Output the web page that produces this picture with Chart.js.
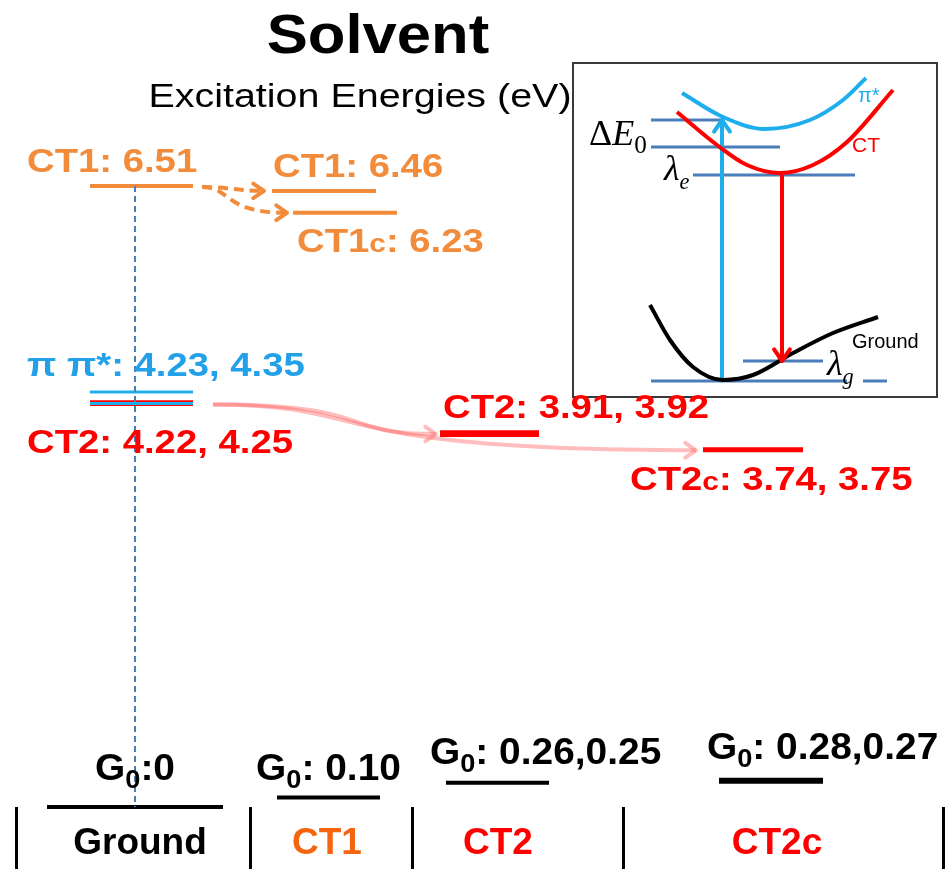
<!DOCTYPE html>
<html>
<head>
<meta charset="utf-8">
<script src="https://cdn.jsdelivr.net/npm/chart.js@4.4.1/dist/chart.umd.min.js"></script>
<style>
  html, body { margin: 0; padding: 0; background: #fff; }
  #wrap { position: relative; width: 947px; height: 869px; }
  #levels { position: absolute; left: 0; top: 0; z-index: 2; }
  #inset { position: absolute; left: 572px; top: 62px; width: 366px; height: 336px; z-index: 1;
           border: 2px solid #3a3a3a; box-sizing: border-box; background: #fff; }
</style>
</head>
<body>
<div id="wrap">
  <div id="inset"><canvas id="scheme"></canvas></div>
  <canvas id="levels"></canvas>
</div>
<script>
// Energies (eV)
const states = ["Ground", "CT1", "CT2", "CT2c"];
const stateColors = ["#000000", "#f5640f", "#ff0000", "#ff0000"];
const groundG0 = [0];
const ct1G0 = [0.10];
const ct2G0 = [0.26, 0.25];
const ct2cG0 = [0.28, 0.27];
const ct1Vertical = [6.51];
const ct1Relaxed = [6.46];
const ct1cRelaxed = [6.23];
const pipiVertical = [4.23, 4.35];
const ct2Vertical = [4.22, 4.25];
const ct2Relaxed = [3.91, 3.92];
const ct2cRelaxed = [3.74, 3.75];

// inset sketch (arbitrary units)
const insetPiStar = [[108, 303], [149, 279], [191, 267], [236, 276], [269, 296], [292, 318]];
const insetCT = [[103, 284], [143, 251], [173, 231], [206, 223], [239, 231], [273, 254], [319, 306]];
const insetGround = [[76, 91], [96, 56], [119, 29], [149, 16], [179, 21], [219, 43], [259, 63], [304, 79]];
const insetLevels = [[77, 149, 276], [77, 206, 249], [119, 281, 221], [169, 249, 35], [77, 273, 15], [289, 313, 15]];

// layout of the diagram (x units along the plot width)
const colEdges = [0, 234, 396, 607, 927];
const labelAt = [124, 311, 482, 761];
const span = {
  ground: [31, 207], vert: [74, 177],
  ct1: [256, 360], ct1c: [277, 381], ct1g: [261, 364],
  ct2: [424, 523], ct2g: [430, 533],
  ct2c: [687, 787], ct2cg: [703, 807]
};

const FONT = '"Liberation Sans", Arial, Helvetica, sans-serif';
const SERIF = '"Liberation Serif", "Times New Roman", serif';
const ORANGE = "#f28b3a", BLUE = "#1eaeee", BLUE_TEXT = "#22a0e8", RED = "#ff0000";
const STEEL = "#4a7ebb", PINK = "rgba(255, 90, 90, 0.4)";

const f2 = v => v.toFixed(2);
const mid = s => (s[0] + s[1]) / 2;

// text with optional subscripts / small letters, stretched horizontally
const KIND = { n: [1, 0, ""], s: [0.7, 0.22, ""], c: [0.78, 0, ""], i: [1, 0, "italic "], si: [0.62, 0.25, "italic "] };
function text(ctx, parts, x, y, o) {
  const size = o.size, weight = o.weight || "bold", fam = o.family || FONT;
  const fontOf = k => KIND[k][2] + weight + " " + (size * KIND[k][0]) + "px " + fam;
  ctx.save();
  ctx.fillStyle = o.color || "#000";
  ctx.textAlign = "left";
  ctx.textBaseline = "alphabetic";
  let w = 0;
  parts.forEach(([t, k]) => { ctx.font = fontOf(k); w += ctx.measureText(t).width; });
  let cx = o.align === "center" ? -w / 2 : 0;
  ctx.translate(x, y);
  ctx.scale(o.sx || 1, 1);
  parts.forEach(([t, k]) => {
    ctx.font = fontOf(k);
    ctx.fillText(t, cx, size * KIND[k][1]);
    cx += ctx.measureText(t).width;
  });
  ctx.restore();
}

function head(ctx, x, y, ang, color, width, len) {
  ctx.save();
  ctx.strokeStyle = color;
  ctx.lineWidth = width;
  ctx.lineCap = "round";
  ctx.lineJoin = "round";
  ctx.setLineDash([]);
  ctx.beginPath();
  ctx.moveTo(x - len * Math.cos(ang - 0.6), y - len * Math.sin(ang - 0.6));
  ctx.lineTo(x, y);
  ctx.lineTo(x - len * Math.cos(ang + 0.6), y - len * Math.sin(ang + 0.6));
  ctx.stroke();
  ctx.restore();
}

function arrow(ctx, s, c1, c2, e, color, width, dash) {
  ctx.save();
  ctx.strokeStyle = color;
  ctx.lineWidth = width;
  ctx.setLineDash(dash || []);
  ctx.beginPath();
  ctx.moveTo(s.x, s.y);
  ctx.bezierCurveTo(c1.x, c1.y, c2.x, c2.y, e.x, e.y);
  ctx.stroke();
  ctx.restore();
  head(ctx, e.x, e.y, Math.atan2(e.y - c2.y, e.x - c2.x), color, width, 13);
}

const annotate = {
  id: "annotate",
  afterDatasetsDraw(chart) {
    const { ctx } = chart;
    const X = v => chart.scales.x.getPixelForValue(v);
    const Y = v => chart.scales.y.getPixelForValue(v);
    const top = a => Y(Math.max(...a)), low = a => Y(Math.min(...a));
    const lvl = { size: 33, sx: 1.16 };
    const g0 = { size: 36, sx: 1.08 };

    text(ctx, [["Solvent", "n"]], 378, 53, { size: 55, sx: 1.12, align: "center" });
    text(ctx, [["Excitation Energies (eV)", "n"]], 360, 107, { size: 34, sx: 1.16, weight: "normal", align: "center" });

    text(ctx, [["CT1: " + f2(ct1Vertical[0]), "n"]], X(11), top(ct1Vertical) - 14, { ...lvl, color: ORANGE });
    text(ctx, [["CT1: " + f2(ct1Relaxed[0]), "n"]], X(span.ct1[0] + 1), top(ct1Relaxed) - 14, { ...lvl, color: ORANGE });
    text(ctx, [["CT1", "n"], ["c", "c"], [": " + f2(ct1cRelaxed[0]), "n"]], X(span.ct1c[0] + 4), low(ct1cRelaxed) + 39, { ...lvl, color: ORANGE });
    text(ctx, [["π π*: " + pipiVertical.map(f2).join(", "), "n"]], X(11), top(pipiVertical) - 16, { ...lvl, color: BLUE_TEXT });
    text(ctx, [["CT2: " + ct2Vertical.map(f2).join(", "), "n"]], X(11), low(ct2Vertical) + 48, { ...lvl, color: RED });
    text(ctx, [["CT2: " + ct2Relaxed.map(f2).join(", "), "n"]], X(span.ct2[0] + 3), top(ct2Relaxed) - 15, { ...lvl, color: RED });
    text(ctx, [["CT2", "n"], ["c", "c"], [": " + ct2cRelaxed.map(f2).join(", "), "n"]], X(614), low(ct2cRelaxed) + 40, { ...lvl, color: RED });

    text(ctx, [["G", "n"], ["0", "s"], [":" + groundG0[0], "n"]], X(mid(span.ground)), top(groundG0) - 27, { ...g0, align: "center" });
    text(ctx, [["G", "n"], ["0", "s"], [": " + f2(ct1G0[0]), "n"]], X(mid(span.ct1g)), top(ct1G0) - 17, { ...g0, align: "center" });
    text(ctx, [["G", "n"], ["0", "s"], [": " + ct2G0.map(f2).join(","), "n"]], X(span.ct2g[0] - 16), top(ct2G0) - 18, g0);
    text(ctx, [["G", "n"], ["0", "s"], [": " + ct2cG0.map(f2).join(","), "n"]], X(span.ct2cg[0] - 12), top(ct2cG0) - 21, g0);

    // relaxation arrows, CT1 (dashed orange)
    const s = { x: X(span.vert[1]) + 9, y: Y(ct1Vertical[0]) + 1 };
    const e1 = { x: X(span.ct1[0]) - 8, y: Y(ct1Relaxed[0]) };
    const e2 = { x: X(span.ct1c[0]) - 6, y: Y(ct1cRelaxed[0]) };
    arrow(ctx, s, { x: s.x + 30, y: s.y }, { x: e1.x - 30, y: e1.y }, e1, ORANGE, 4, [10, 6]);
    arrow(ctx, s, { x: s.x + 30, y: s.y }, { x: s.x + 20, y: e2.y }, e2, ORANGE, 4, [10, 6]);

    // relaxation arrows, CT2 (pink)
    const p = { x: X(span.vert[1]) + 20, y: Y(ct2Vertical[0]) };
    const q1 = { x: X(span.ct2[0]) - 4, y: Y(ct2Relaxed[0]) };
    const q2 = { x: X(span.ct2c[0]) - 7, y: Y(ct2cRelaxed[0]) };
    const d1 = q1.x - p.x, d2 = q2.x - p.x;
    arrow(ctx, p, { x: p.x + 0.75 * d1, y: p.y }, { x: p.x + 0.55 * d1, y: q1.y }, q1, PINK, 4);
    arrow(ctx, p, { x: p.x + 0.35 * d2, y: p.y }, { x: p.x + 0.2 * d2, y: q2.y }, q2, PINK, 4);
  }
};

const datasets = [];
// vertical excitation guide from the ground minimum
datasets.push({
  data: [{ x: mid(span.ground), y: ct1Vertical[0] }, { x: mid(span.ground), y: groundG0[0] }],
  borderColor: STEEL, borderWidth: 2, borderDash: [6, 4], clip: false, order: 0
});
function addLevels(values, s, color, width) {
  values.forEach(e => datasets.push({
    data: [{ x: s[0], y: e }, { x: s[1], y: e }],
    borderColor: color, borderWidth: width, clip: false, order: 1
  }));
}
addLevels(groundG0, span.ground, "#000", 4);
addLevels(ct1G0, span.ct1g, "#000", 4);
addLevels(ct2G0, span.ct2g, "#000", 3);
addLevels(ct2cG0, span.ct2cg, "#000", 5);
addLevels(ct1Vertical, span.vert, ORANGE, 4);
addLevels(ct1Relaxed, span.ct1, ORANGE, 4);
addLevels(ct1cRelaxed, span.ct1c, ORANGE, 4);
addLevels(pipiVertical, span.vert, BLUE, 3);
addLevels(ct2Vertical, span.vert, RED, 3);
addLevels(ct2Relaxed, span.ct2, RED, 6);
addLevels(ct2cRelaxed, span.ct2c, RED, 4);

new Chart(document.getElementById("levels"), {
  type: "line",
  data: { datasets },
  options: {
    animation: false,
    responsive: true,
    maintainAspectRatio: false,
    events: [],
    layout: { padding: { top: 44, left: 16, right: 4, bottom: 0 } },
    elements: { point: { radius: 0 }, line: { borderCapStyle: "butt" } },
    plugins: { legend: { display: false }, tooltip: { enabled: false } },
    scales: {
      x: {
        type: "linear", min: 0, max: 927,
        afterBuildTicks: sc => { sc.ticks = colEdges.concat(labelAt).sort((a, b) => a - b).map(v => ({ value: v })); },
        afterFit: sc => { sc.height = 62; },
        border: { display: false },
        grid: {
          drawOnChartArea: false, tickLength: 62, tickWidth: 3,
          tickColor: c => colEdges.includes(c.tick.value) ? "#000" : "rgba(0,0,0,0)"
        },
        ticks: {
          autoSkip: false, maxRotation: 0, minRotation: 0, padding: -47,
          font: { family: FONT, size: 37, weight: "bold" },
          color: c => { const i = labelAt.indexOf(c.tick.value); return i < 0 ? "#000" : stateColors[i]; },
          callback: v => { const i = labelAt.indexOf(v); return i < 0 ? "" : states[i]; }
        }
      },
      y: { type: "linear", display: false, min: 0, max: 8 }
    }
  },
  plugins: [annotate]
});

// inset: schematic potential curves
const insetMarks = {
  id: "insetMarks",
  afterDatasetsDraw(chart) {
    const { ctx } = chart;
    const X = v => chart.scales.x.getPixelForValue(v);
    const Y = v => chart.scales.y.getPixelForValue(v);
    head(ctx, X(148), Y(276), -Math.PI / 2, BLUE, 4, 14);
    head(ctx, X(208), Y(35), Math.PI / 2, RED, 4, 14);
    text(ctx, [["Δ", "n"], ["E", "i"], ["0", "s"]], X(15), Y(251), { size: 36, family: SERIF, weight: "normal" });
    text(ctx, [["λ", "i"], ["e", "si"]], X(90), Y(216), { size: 36, family: SERIF, weight: "normal" });
    text(ctx, [["λ", "i"], ["g", "si"]], X(253), Y(21), { size: 36, family: SERIF, weight: "normal" });
    text(ctx, [["Ground", "n"]], X(278), Y(48), { size: 20, weight: "normal" });
    text(ctx, [["π*", "n"]], X(284), Y(294), { size: 20, weight: "normal", color: BLUE });
    text(ctx, [["CT", "n"]], X(278), Y(244), { size: 21, weight: "normal", color: RED });
  }
};

const pts = a => a.map(([x, y]) => ({ x, y }));
const insetSets = [
  { data: pts(insetPiStar), borderColor: BLUE, borderWidth: 4, cubicInterpolationMode: "monotone" },
  { data: pts(insetCT), borderColor: RED, borderWidth: 4, cubicInterpolationMode: "monotone" },
  { data: pts(insetGround), borderColor: "#000", borderWidth: 4, cubicInterpolationMode: "monotone" },
  { data: [{ x: 148, y: 15 }, { x: 148, y: 276 }], borderColor: BLUE, borderWidth: 4 },
  { data: [{ x: 208, y: 221 }, { x: 208, y: 35 }], borderColor: RED, borderWidth: 4 }
];
insetLevels.forEach(([a, b, v]) => insetSets.push({
  data: [{ x: a, y: v }, { x: b, y: v }], borderColor: STEEL, borderWidth: 3
}));
insetSets.forEach((d, i) => { d.clip = false; d.order = i < 5 ? 0 : 1; });

new Chart(document.getElementById("scheme"), {
  type: "line",
  data: { datasets: insetSets },
  options: {
    animation: false,
    responsive: true,
    maintainAspectRatio: false,
    events: [],
    layout: { padding: 0 },
    elements: { point: { radius: 0 }, line: { borderCapStyle: "butt" } },
    plugins: { legend: { display: false }, tooltip: { enabled: false } },
    scales: {
      x: { type: "linear", display: false, min: 0, max: 362 },
      y: { type: "linear", display: false, min: 0, max: 332 }
    }
  },
  plugins: [insetMarks]
});
</script>
</body>
</html>
